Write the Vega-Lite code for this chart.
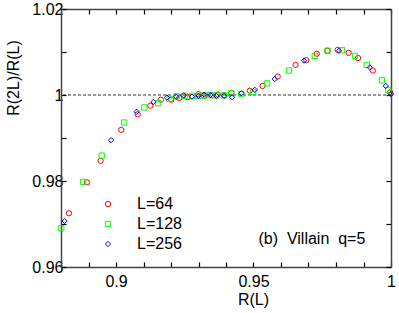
{
  "$schema": "https://vega.github.io/schema/vega-lite/v6.json",
  "width": 330,
  "height": 258,
  "autosize": "none",
  "padding": {"left": 61, "top": 9, "right": 8, "bottom": 46},
  "config": {
    "view": {"stroke": null},
    "font": "Liberation Sans",
    "axis": {
      "grid": false,
      "domainColor": "#444",
      "domainWidth": 1.5,
      "tickColor": "#000",
      "tickWidth": 1.2,
      "tickSize": -5,
      "labelFont": "Liberation Sans",
      "labelFontSize": 16,
      "labelColor": "#000",
      "labelFlush": false,
      "labelOverlap": false,
      "titleFont": "Liberation Sans",
      "titleFontSize": 16,
      "titleFontWeight": "normal",
      "titleColor": "#000"
    },
    "legend": {
      "orient": "none",
      "legendX": 39,
      "legendY": 187,
      "padding": 0,
      "labelFont": "Liberation Sans",
      "labelFontSize": 16,
      "labelColor": "#000",
      "labelOffset": 21,
      "rowPadding": 4,
      "symbolSize": 28,
      "symbolStrokeWidth": 1,
      "title": null
    }
  },
  "datasets": {
    "pts": [
      {"s": "L=64", "x": 0.8829, "y": 0.9725},
      {"s": "L=64", "x": 0.8894, "y": 0.9797},
      {"s": "L=64", "x": 0.8944, "y": 0.9847},
      {"s": "L=64", "x": 0.9019, "y": 0.9919},
      {"s": "L=64", "x": 0.9079, "y": 0.9955},
      {"s": "L=64", "x": 0.9125, "y": 0.9975},
      {"s": "L=64", "x": 0.9163, "y": 0.9989},
      {"s": "L=64", "x": 0.9201, "y": 0.9989},
      {"s": "L=64", "x": 0.923, "y": 0.9993},
      {"s": "L=64", "x": 0.926, "y": 0.9995},
      {"s": "L=64", "x": 0.93, "y": 1.0002},
      {"s": "L=64", "x": 0.932, "y": 0.9998},
      {"s": "L=64", "x": 0.935, "y": 0.9999},
      {"s": "L=64", "x": 0.937, "y": 1.0001},
      {"s": "L=64", "x": 0.9395, "y": 0.9999},
      {"s": "L=64", "x": 0.9419, "y": 1.0005},
      {"s": "L=64", "x": 0.9487, "y": 1.001},
      {"s": "L=64", "x": 0.9533, "y": 1.0021},
      {"s": "L=64", "x": 0.9588, "y": 1.0043},
      {"s": "L=64", "x": 0.9653, "y": 1.007},
      {"s": "L=64", "x": 0.9692, "y": 1.0081},
      {"s": "L=64", "x": 0.973, "y": 1.0096},
      {"s": "L=64", "x": 0.9769, "y": 1.0103},
      {"s": "L=64", "x": 0.9806, "y": 1.0105},
      {"s": "L=64", "x": 0.9846, "y": 1.0098},
      {"s": "L=64", "x": 0.988, "y": 1.0086},
      {"s": "L=64", "x": 0.9934, "y": 1.0057},
      {"s": "L=64", "x": 0.9997, "y": 1.0006},
      {"s": "L=128", "x": 0.8801, "y": 0.969},
      {"s": "L=128", "x": 0.8881, "y": 0.9798},
      {"s": "L=128", "x": 0.8948, "y": 0.9859},
      {"s": "L=128", "x": 0.903, "y": 0.9936},
      {"s": "L=128", "x": 0.9103, "y": 0.9971},
      {"s": "L=128", "x": 0.9154, "y": 0.9981},
      {"s": "L=128", "x": 0.9195, "y": 0.9991},
      {"s": "L=128", "x": 0.922, "y": 0.9997},
      {"s": "L=128", "x": 0.925, "y": 0.9998},
      {"s": "L=128", "x": 0.9278, "y": 0.9998},
      {"s": "L=128", "x": 0.93, "y": 0.9998},
      {"s": "L=128", "x": 0.9321, "y": 0.9999},
      {"s": "L=128", "x": 0.9343, "y": 1.0},
      {"s": "L=128", "x": 0.9365, "y": 0.9999},
      {"s": "L=128", "x": 0.9392, "y": 0.9999},
      {"s": "L=128", "x": 0.9419, "y": 1.0004},
      {"s": "L=128", "x": 0.9456, "y": 1.0002},
      {"s": "L=128", "x": 0.9499, "y": 1.0007},
      {"s": "L=128", "x": 0.955, "y": 1.0027},
      {"s": "L=128", "x": 0.9629, "y": 1.0057},
      {"s": "L=128", "x": 0.9723, "y": 1.0091},
      {"s": "L=128", "x": 0.9769, "y": 1.0103},
      {"s": "L=128", "x": 0.9822, "y": 1.0104},
      {"s": "L=128", "x": 0.9869, "y": 1.0091},
      {"s": "L=128", "x": 0.9912, "y": 1.007},
      {"s": "L=128", "x": 0.9967, "y": 1.0034},
      {"s": "L=128", "x": 0.999, "y": 1.0012},
      {"s": "L=256", "x": 0.8813, "y": 0.9707},
      {"s": "L=256", "x": 0.8982, "y": 0.9895},
      {"s": "L=256", "x": 0.9075, "y": 0.9961},
      {"s": "L=256", "x": 0.9136, "y": 0.9984},
      {"s": "L=256", "x": 0.9185, "y": 0.9994},
      {"s": "L=256", "x": 0.9219, "y": 0.9996},
      {"s": "L=256", "x": 0.9246, "y": 0.9999},
      {"s": "L=256", "x": 0.9276, "y": 0.9996},
      {"s": "L=256", "x": 0.93, "y": 0.9998},
      {"s": "L=256", "x": 0.9321, "y": 1.0001},
      {"s": "L=256", "x": 0.9343, "y": 1.0},
      {"s": "L=256", "x": 0.9365, "y": 0.9998},
      {"s": "L=256", "x": 0.9393, "y": 0.9998},
      {"s": "L=256", "x": 0.9422, "y": 0.9995},
      {"s": "L=256", "x": 0.9456, "y": 1.0004},
      {"s": "L=256", "x": 0.9505, "y": 1.0012},
      {"s": "L=256", "x": 0.9577, "y": 1.0037},
      {"s": "L=256", "x": 0.9684, "y": 1.008},
      {"s": "L=256", "x": 0.9811, "y": 1.0103},
      {"s": "L=256", "x": 0.9923, "y": 1.0064},
      {"s": "L=256", "x": 0.9981, "y": 1.0021},
      {"s": "L=256", "x": 1.0, "y": 1.0002}
    ]
  },
  "layer": [
    {
      "data": {"values": [{"y": 1}]},
      "mark": {"type": "rule", "color": "#000", "strokeWidth": 0.8, "strokeDash": [3, 2]},
      "encoding": {
        "y": {
          "field": "y", "type": "quantitative",
          "scale": {"domain": [0.96, 1.02], "nice": false, "zero": false},
          "axis": {
            "orient": "right", "title": null, "labels": false,
            "values": [0.96, 0.97, 0.98, 0.99, 1.0, 1.01, 1.02]
          }
        }
      }
    },
    {
      "data": {"values": [{"x": 0.9518, "y": 0.96535, "t": "(b)\u00a0 Villain\u00a0 q=5"}]},
      "mark": {"type": "text", "align": "left", "baseline": "alphabetic", "fontSize": 16, "font": "Liberation Sans", "color": "#000"},
      "encoding": {
        "x": {
          "field": "x", "type": "quantitative",
          "scale": {"domain": [0.88, 1.0], "nice": false, "zero": false},
          "axis": {
            "orient": "top", "title": null, "labels": false,
            "values": [0.88, 0.89, 0.9, 0.91, 0.92, 0.93, 0.94, 0.95, 0.96, 0.97, 0.98, 0.99, 1.0]
          }
        },
        "y": {"field": "y", "type": "quantitative", "axis": null},
        "text": {"field": "t"}
      }
    },
    {
      "data": {"name": "pts"},
      "mark": {"type": "point", "filled": false, "size": 28, "strokeWidth": 1, "opacity": 1},
      "encoding": {
        "x": {
          "field": "x", "type": "quantitative",
          "scale": {"domain": [0.88, 1.0], "nice": false, "zero": false},
          "axis": {
            "orient": "bottom",
            "values": [0.88, 0.89, 0.9, 0.91, 0.92, 0.93, 0.94, 0.95, 0.96, 0.97, 0.98, 0.99, 1.0],
            "labelExpr": "datum.value == 0.9 ? '0.9' : datum.value == 0.95 ? '0.95' : datum.value == 1 ? '1' : ''",
            "labelPadding": 11,
            "title": "R(L)",
            "titleX": 192,
            "titleY": 37,
            "titleAlign": "center",
            "titleBaseline": "alphabetic"
          }
        },
        "y": {
          "field": "y", "type": "quantitative",
          "scale": {"domain": [0.96, 1.02], "nice": false, "zero": false},
          "axis": {
            "orient": "left",
            "values": [0.96, 0.97, 0.98, 0.99, 1.0, 1.01, 1.02],
            "labelExpr": "datum.value == 0.96 ? '0.96' : datum.value == 0.98 ? '0.98' : datum.value == 1 ? '1' : datum.value == 1.02 ? '1.02' : ''",
            "labelPadding": 3,
            "title": "R(2L)/R(L)",
            "titleX": -48,
            "titleY": 68.5,
            "titleAngle": -90,
            "titleAlign": "center",
            "titleBaseline": "middle"
          }
        },
        "color": {
          "field": "s", "type": "nominal",
          "scale": {"domain": ["L=64", "L=128", "L=256"], "range": ["#ff0000", "#00ff00", "#0000ff"]}
        },
        "shape": {
          "field": "s", "type": "nominal",
          "scale": {"domain": ["L=64", "L=128", "L=256"], "range": ["circle", "square", "diamond"]}
        }
      }
    }
  ],
  "resolve": {"axis": {"x": "independent", "y": "independent"}}
}
